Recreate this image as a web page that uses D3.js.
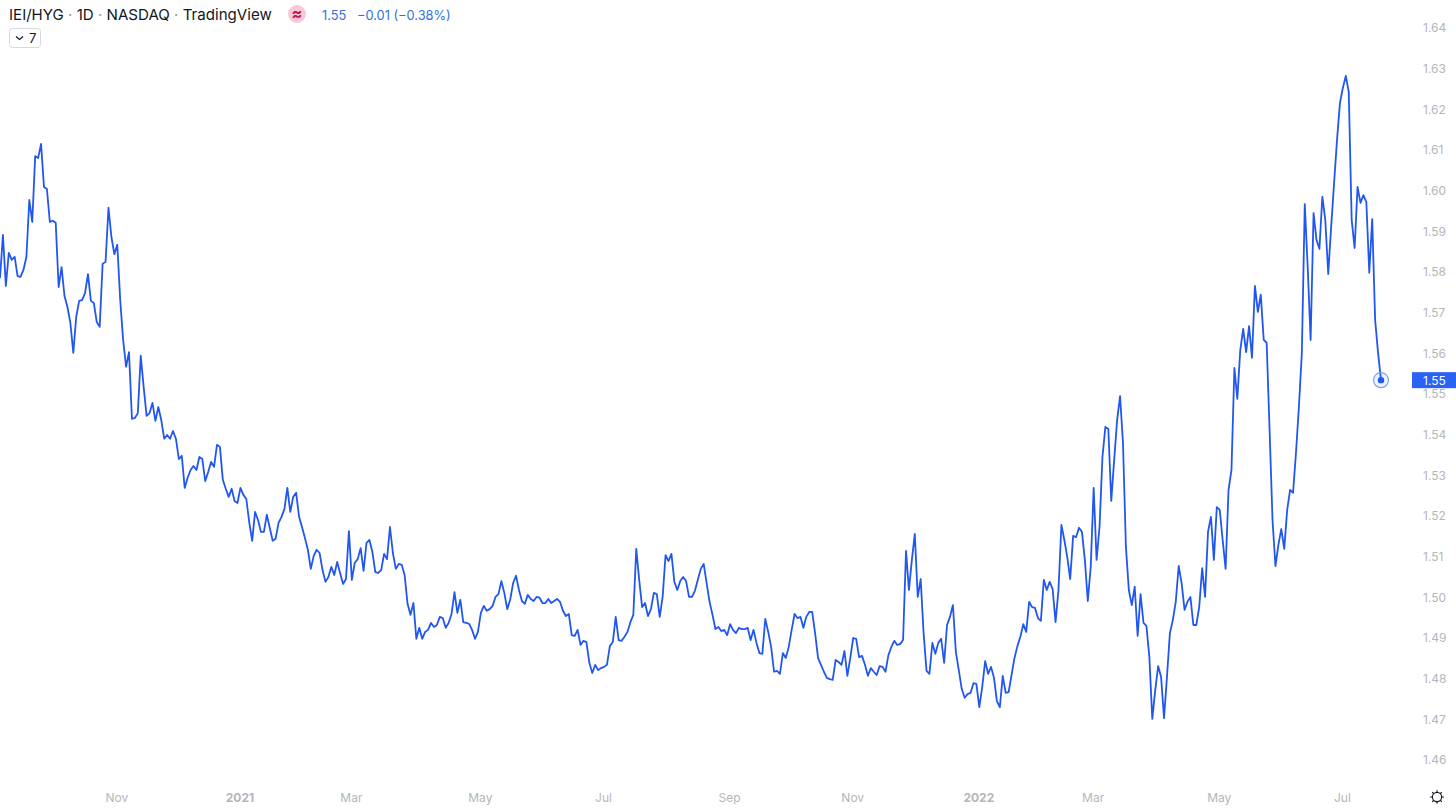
<!DOCTYPE html>
<html>
<head>
<meta charset="utf-8">
<title>IEI/HYG</title>
<script src="https://cdn.jsdelivr.net/npm/d3@7"></script>
<style>
  html, body { margin: 0; padding: 0; background: #fff; overflow: hidden; }
  svg { display: block; font-family: Inter, "Noto Sans", sans-serif; }
</style>
</head>
<body>
<svg id="chart" width="1456" height="809"></svg>
<script>
// daily closes of the ratio
const closes = [
  1.5785,1.5891,1.5766,1.5847,1.5830,1.5837,1.5790,1.5788,1.5805,1.5837,1.5977,1.5923,1.6085,1.6080,1.6115,
  1.6009,1.6004,1.5923,1.5926,1.5921,1.5763,1.5812,1.5741,1.5714,1.5675,1.5601,1.5690,1.5729,1.5731,1.5748,
  1.5795,1.5729,1.5724,1.5677,1.5665,1.5820,1.5825,1.5958,1.5886,1.5844,1.5867,1.5731,1.5633,1.5567,1.5603,
  1.5439,1.5441,1.5453,1.5594,1.5517,1.5446,1.5453,1.5478,1.5434,1.5468,1.5436,1.5390,1.5399,1.5390,1.5409,
  1.5390,1.5340,1.5348,1.5269,1.5294,1.5313,1.5323,1.5313,1.5345,1.5340,1.5286,1.5308,1.5333,1.5321,1.5375,
  1.5370,1.5289,1.5267,1.5247,1.5267,1.5237,1.5232,1.5269,1.5252,1.5242,1.5185,1.5139,1.5210,1.5190,1.5161,
  1.5161,1.5203,1.5171,1.5139,1.5144,1.5183,1.5198,1.5217,1.5269,1.5210,1.5247,1.5257,1.5198,1.5173,1.5146,
  1.5117,1.5070,1.5102,1.5117,1.5109,1.5067,1.5038,1.5050,1.5075,1.5055,1.5087,1.5060,1.5033,1.5045,1.5163,
  1.5043,1.5085,1.5094,1.5121,1.5065,1.5134,1.5141,1.5112,1.5062,1.5060,1.5067,1.5107,1.5094,1.5173,1.5109,
  1.5070,1.5082,1.5080,1.5055,1.4984,1.4957,1.4986,1.4898,1.4925,1.4898,1.4915,1.4920,1.4937,1.4927,1.4932,
  1.4952,1.4949,1.4925,1.4937,1.4959,1.5013,1.4962,1.4994,1.4939,1.4937,1.4935,1.4920,1.4898,1.4915,1.4962,
  1.4979,1.4967,1.4971,1.4979,1.5001,1.5008,1.5040,1.5011,1.4971,1.4994,1.5035,1.5053,1.5018,1.4991,1.4984,
  1.5006,1.4996,1.4991,1.5001,1.4999,1.4986,1.4986,1.4996,1.4986,1.4991,1.4996,1.4989,1.4967,1.4954,1.4959,
  1.4907,1.4905,1.4920,1.4883,1.4893,1.4890,1.4839,1.4814,1.4834,1.4821,1.4826,1.4829,1.4834,1.4880,1.4890,
  1.4952,1.4895,1.4893,1.4903,1.4915,1.4939,1.4957,1.5119,1.5043,1.4976,1.4986,1.4954,1.4971,1.5011,1.5008,
  1.4952,1.5001,1.5104,1.5089,1.5107,1.5038,1.5018,1.5040,1.5050,1.5040,1.5001,1.5001,1.5016,1.5043,1.5070,
  1.5082,1.5035,1.4989,1.4957,1.4922,1.4927,1.4917,1.4920,1.4907,1.4934,1.4920,1.4912,1.4925,1.4922,1.4922,
  1.4925,1.4895,1.4920,1.4888,1.4863,1.4861,1.4947,1.4915,1.4878,1.4817,1.4819,1.4812,1.4863,1.4851,1.4878,
  1.4920,1.4959,1.4949,1.4952,1.4925,1.4952,1.4964,1.4964,1.4912,1.4851,1.4834,1.4817,1.4802,1.4799,1.4797,
  1.4846,1.4841,1.4834,1.4868,1.4807,1.4851,1.4900,1.4898,1.4853,1.4856,1.4834,1.4807,1.4826,1.4817,1.4809,
  1.4831,1.4829,1.4817,1.4858,1.4878,1.4893,1.4883,1.4885,1.4895,1.5114,1.5018,1.5092,1.5156,1.5001,1.5045,
  1.4912,1.4819,1.4812,1.4888,1.4861,1.4888,1.4898,1.4839,1.4932,1.4952,1.4981,1.4866,1.4821,1.4775,1.4753,
  1.4762,1.4765,1.4789,1.4787,1.4730,1.4780,1.4843,1.4812,1.4829,1.4802,1.4745,1.4730,1.4807,1.4765,1.4767,
  1.4809,1.4851,1.4880,1.4903,1.4934,1.4915,1.4989,1.4976,1.4974,1.4949,1.4942,1.5043,1.5018,1.5038,1.5021,
  1.4939,1.5018,1.5178,1.5141,1.5099,1.5045,1.5151,1.5148,1.5171,1.5161,1.5092,1.4991,1.5075,1.5269,1.5092,
  1.5173,1.5345,1.5419,1.5414,1.5237,1.5338,1.5436,1.5495,1.5380,1.5124,1.5018,1.4981,1.5026,1.4905,1.5008,
  1.4937,1.4930,1.4853,1.4701,1.4772,1.4831,1.4804,1.4703,1.4804,1.4912,1.4944,1.4989,1.5077,1.5035,1.4969,
  1.4989,1.5001,1.4932,1.4932,1.4976,1.5072,1.5001,1.5161,1.5198,1.5092,1.5222,1.5215,1.5141,1.5070,1.5264,
  1.5313,1.5564,1.5488,1.5608,1.5660,1.5603,1.5667,1.5589,1.5766,1.5702,1.5744,1.5633,1.5626,1.5412,1.5190,
  1.5077,1.5129,1.5168,1.5119,1.5215,1.5264,1.5257,1.5355,1.5468,1.5601,1.5967,1.5812,1.5633,1.5945,1.5879,
  1.5857,1.5985,1.5928,1.5795,1.5911,1.6019,1.6125,1.6216,1.6253,1.6282,1.6243,1.5928,1.5859,1.6009,1.5970,
  1.5989,1.5972,1.5798,1.5930,1.5682,1.5601,1.5534
];

const priceTicks = d3.range(146, 165).map(d => d / 100);
const monthLabels = ["Nov", "2021", "Mar", "May", "Jul", "Sep", "Nov", "2022", "Mar", "May", "Jul"];
const monthBars = [40, 82, 120, 164, 206, 249, 291, 334, 373, 416, 458];  // bar index under each label

const headerParts = ["IEI/HYG", "1D", "NASDAQ", "TradingView"];
const lastLabel = "1.55";
const changeLabel = "−0.01 (−0.38%)";

const blue = "#2157f0";
const axisGrey = "#b4b6ba";

const svg = d3.select("#chart");

const x = d3.scaleLinear().domain([0, closes.length - 1]).range([0, 1381]);
const y = d3.scaleLinear().domain([1.46, 1.64]).range([760, 28]);

// price line
const line = d3.line().x((d, i) => x(i)).y(d => y(d));
svg.append("path")
  .datum(closes)
  .attr("d", line)
  .attr("fill", "none")
  .attr("stroke", blue)
  .attr("stroke-width", 1.8)
  .attr("stroke-linejoin", "round");

// axes
const yAxis = d3.axisRight(y).tickValues(priceTicks).tickSize(0).tickPadding(0).tickFormat(d3.format(".2f"));
const yG = svg.append("g").attr("transform", "translate(1423,0)").call(yAxis);
yG.select(".domain").remove();
yG.selectAll("text").attr("fill", axisGrey).attr("font-size", 12).attr("font-family", "Inter");

const xAxis = d3.axisBottom(x).tickValues(monthBars).tickSize(0).tickPadding(0)
  .tickFormat((d, i) => monthLabels[i]);
const xG = svg.append("g").attr("transform", "translate(-1,793)").call(xAxis);
xG.select(".domain").remove();
xG.selectAll("text")
  .attr("fill", axisGrey)
  .attr("font-size", 12)
  .attr("font-family", "Inter")
  .attr("font-weight", (d, i) => /^20/.test(monthLabels[i]) ? 700 : 400);

// last price marker and tag
const lastX = x(closes.length - 1), lastY = y(closes[closes.length - 1]);
svg.append("circle").attr("cx", lastX).attr("cy", lastY).attr("r", 7.5)
  .attr("fill", "#2157f0").attr("fill-opacity", 0.08).attr("stroke", "#7fa0f5").attr("stroke-width", 1.2);
svg.append("circle").attr("cx", lastX).attr("cy", lastY).attr("r", 3.2).attr("fill", blue);

svg.append("rect").attr("x", 1412).attr("y", lastY - 8).attr("width", 44).attr("height", 16).attr("fill", "#2962f5");
svg.append("text").attr("x", 1423).attr("y", lastY + 4.5).attr("fill", "#fff").attr("font-size", 12).text(lastLabel);

// header
const head = svg.append("text").attr("x", 9).attr("y", 19.5).attr("font-size", 15.1).attr("fill", "#131722");
headerParts.forEach((p, i) => {
  if (i > 0) head.append("tspan").attr("fill", "#9598a1").text(" · ");
  head.append("tspan").text(p);
});

svg.append("circle").attr("cx", 297).attr("cy", 14).attr("r", 9).attr("fill", "#f8c8d8");
svg.append("text").attr("x", 297).attr("y", 19).attr("text-anchor", "middle")
  .attr("font-size", 16).attr("font-weight", 700).attr("fill", "#c2185b").text("≈");

svg.append("text").attr("x", 322).attr("y", 20).attr("font-size", 12.8).attr("fill", "#2f6fe0").text(lastLabel);
svg.append("text").attr("x", 357).attr("y", 20).attr("font-size", 12.8).attr("fill", "#2f6fe0").text(changeLabel);

// collapsed indicators button
svg.append("rect").attr("x", 9.5).attr("y", 28.5).attr("width", 31).attr("height", 19).attr("rx", 3)
  .attr("fill", "#fff").attr("stroke", "#d6d8de");
svg.append("path").attr("d", "M16 36.5l3.5 3 3.5-3").attr("fill", "none").attr("stroke", "#131722").attr("stroke-width", 1.2);
svg.append("text").attr("x", 29).attr("y", 43).attr("font-size", 13).attr("fill", "#131722").text("7");

// settings icon
const gear = svg.append("g").attr("transform", "translate(1437,797)").attr("stroke", "#131722").attr("fill", "none");
gear.append("circle").attr("r", 4.6).attr("stroke-width", 1.1);
d3.range(8).forEach(i => {
  const a = i * Math.PI / 4;
  gear.append("line")
    .attr("x1", 4.6 * Math.cos(a)).attr("y1", 4.6 * Math.sin(a))
    .attr("x2", 6.8 * Math.cos(a)).attr("y2", 6.8 * Math.sin(a))
    .attr("stroke-width", 1.1);
});
</script>
</body>
</html>
